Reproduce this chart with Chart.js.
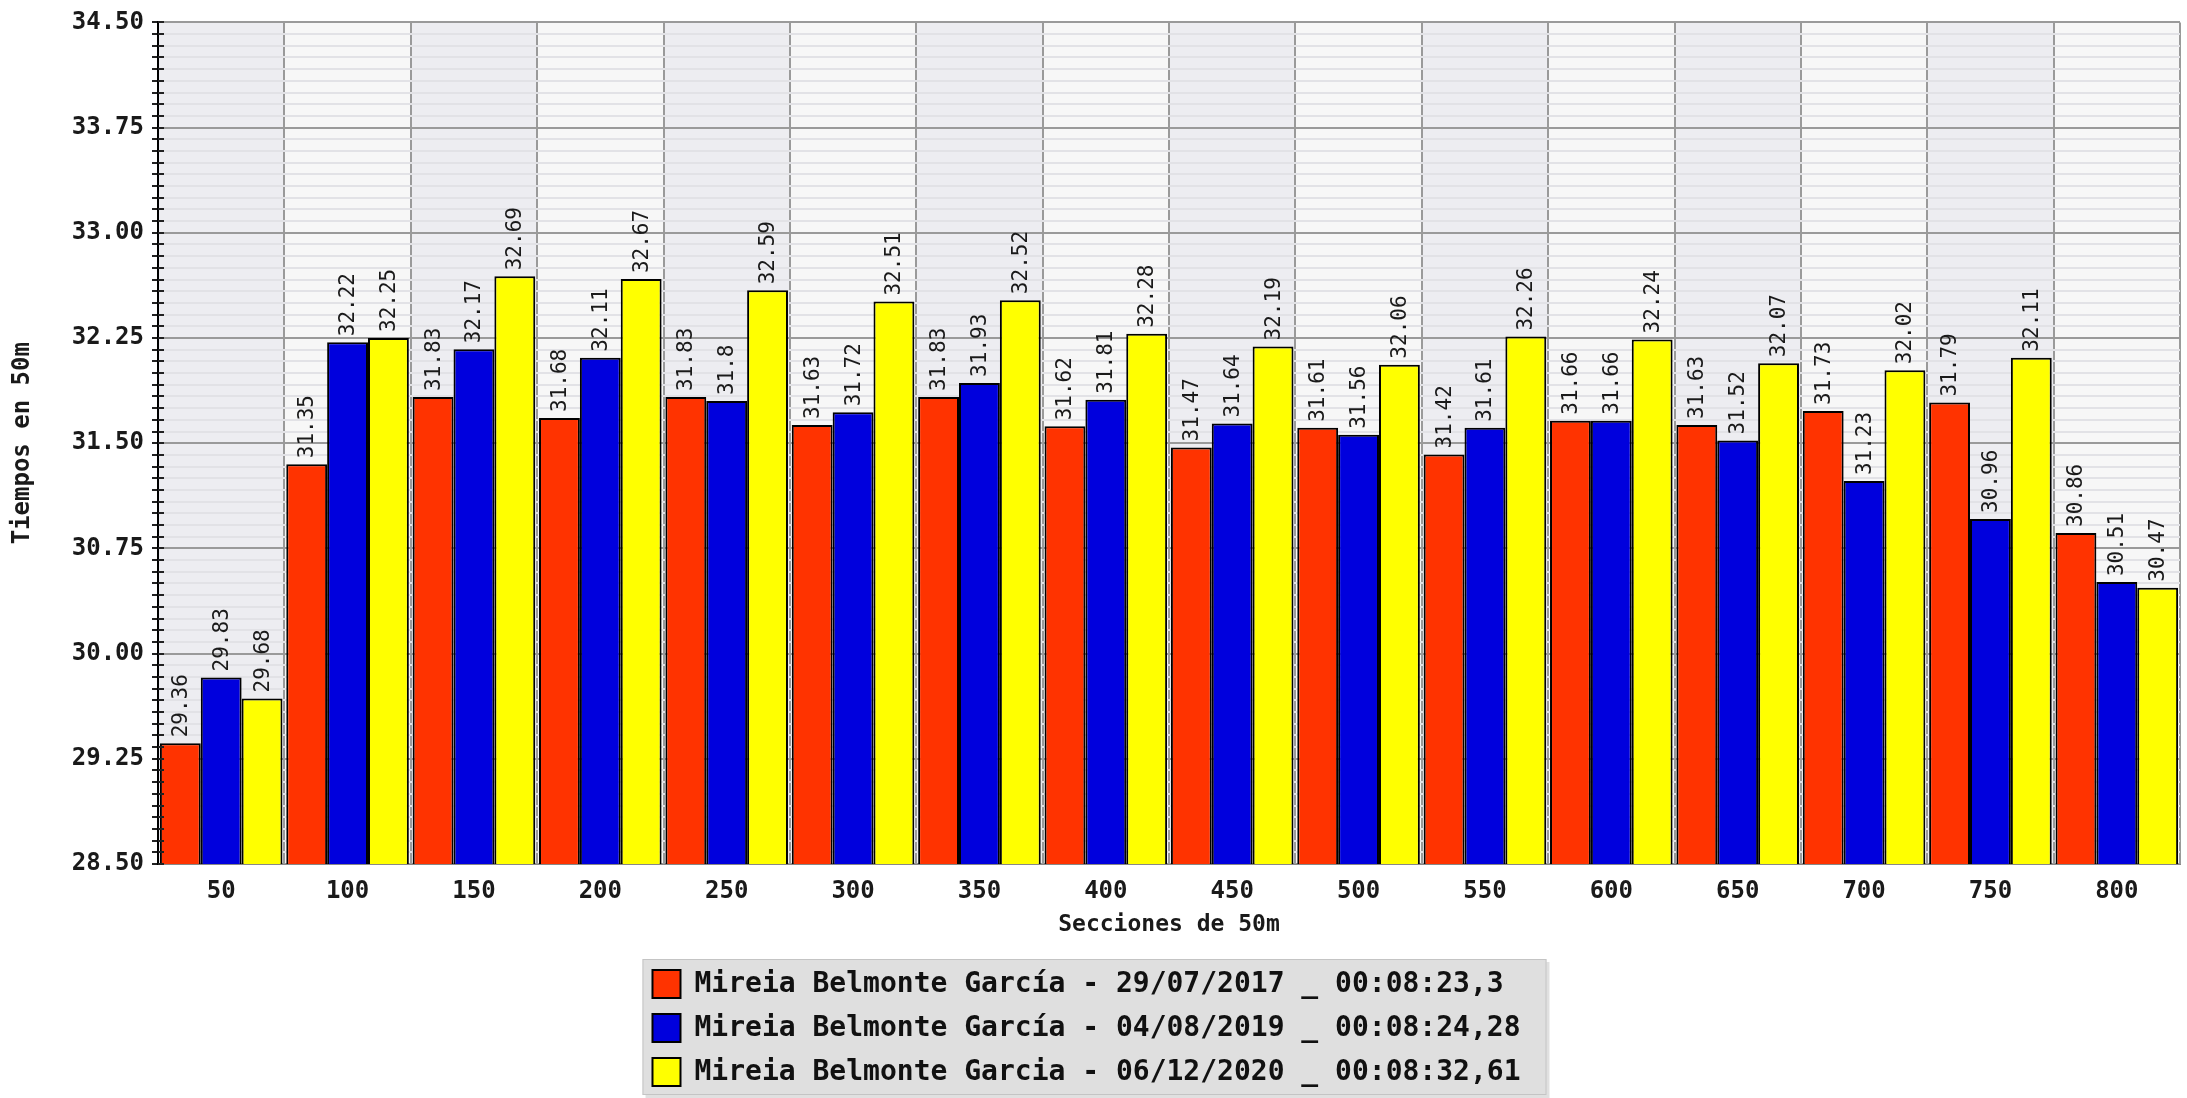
<!DOCTYPE html>
<html>
<head>
<meta charset="utf-8">
<script src="https://cdn.jsdelivr.net/npm/chart.js@4.4.0/dist/chart.umd.min.js"></script>
<style>
  html, body { margin: 0; padding: 0; background: #fff; }
  #wrap { width: 2187px; height: 1098px; }
</style>
</head>
<body>
<div id="wrap"><canvas id="tiempos" width="2187" height="1098"></canvas></div>
<script>
/* Tiempos por sección de 50m, 800 libre */

const secciones = ['50', '100', '150', '200', '250', '300', '350', '400',
                   '450', '500', '550', '600', '650', '700', '750', '800'];

const nadadora2017 = [29.36, 31.35, 31.83, 31.68, 31.83, 31.63, 31.83, 31.62,
                      31.47, 31.61, 31.42, 31.66, 31.63, 31.73, 31.79, 30.86];
const nadadora2019 = [29.83, 32.22, 32.17, 32.11, 31.8, 31.72, 31.93, 31.81,
                      31.64, 31.56, 31.61, 31.66, 31.52, 31.23, 30.96, 30.51];
const nadadora2020 = [29.68, 32.25, 32.69, 32.67, 32.59, 32.51, 32.52, 32.28,
                      32.19, 32.06, 32.26, 32.24, 32.07, 32.02, 32.11, 30.47];

const etiquetas = [
    'Mireia Belmonte García - 29/07/2017 _ 00:08:23,3',
    'Mireia Belmonte García - 04/08/2019 _ 00:08:24,28',
    'Mireia Belmonte Garcia - 06/12/2020 _ 00:08:32,61'
];

const ejeMin = 28.5;
const ejeMax = 34.5;
const pasoMayor = 0.75;
const pasoMenor = 0.75 / 9;

const MONO = '"DejaVu Sans Mono", "Liberation Mono", monospace';

/* ── Plugins ─────────────────────────────────────────── */

// fondo blanco + columnas alternas
const fondoColumnas = {
    id: 'fondoColumnas',
    beforeDraw(chart) {
        const { ctx, chartArea: a, scales: { x } } = chart;
        ctx.save();
        ctx.fillStyle = '#ffffff';
        ctx.fillRect(0, 0, chart.width, chart.height);
        const w = (a.right - a.left) / secciones.length;
        secciones.forEach((s, i) => {
            const cx = x.getPixelForValue(i);
            ctx.fillStyle = i % 2 === 0 ? '#ededf1' : '#f7f7f7';
            ctx.fillRect(cx - w / 2, a.top, w, a.bottom - a.top);
        });
        ctx.restore();
    }
};

// marcas del eje Y que cruzan hacia dentro
const marcasEje = {
    id: 'marcasEje',
    afterDatasetsDraw(chart) {
        const { ctx, scales: { y } } = chart;
        ctx.save();
        ctx.strokeStyle = '#222';
        ctx.lineWidth = 2;
        y.ticks.forEach((t, i) => {
            const py = Math.round(y.getPixelForTick(i));
            ctx.beginPath();
            ctx.moveTo(y.right, py);
            ctx.lineTo(y.right + 6, py);
            ctx.stroke();
        });
        ctx.restore();
    }
};

// valores en vertical encima de cada barra
const valoresBarras = {
    id: 'valoresBarras',
    afterDatasetsDraw(chart) {
        const ctx = chart.ctx;
        ctx.save();
        ctx.font = '21px ' + MONO;
        ctx.fillStyle = '#1a1a1a';
        ctx.textAlign = 'left';
        ctx.textBaseline = 'middle';
        chart.data.datasets.forEach((ds, di) => {
            chart.getDatasetMeta(di).data.forEach((bar, i) => {
                ctx.save();
                ctx.translate(bar.x + 1, bar.y - 6);
                ctx.rotate(-Math.PI / 2);
                ctx.fillText(String(ds.data[i]), 0, 0);
                ctx.restore();
            });
        });
        ctx.restore();
    }
};

// leyenda en caja gris debajo del eje
const leyendaCaja = {
    id: 'leyendaCaja',
    afterDraw(chart) {
        const ctx = chart.ctx;
        const ds = chart.data.datasets;
        ctx.save();
        ctx.font = 'bold 28px ' + MONO;
        const anchoTexto = Math.max(...ds.map(d => ctx.measureText(d.label).width));
        const fila = 44;
        const boxW = anchoTexto + 78;
        const boxH = fila * ds.length + 4;
        const boxX = chart.width / 2 - boxW / 2 + 1;
        const boxY = chart.scales.x.bottom + 15;

        ctx.fillStyle = 'rgba(0,0,0,0.12)';
        ctx.fillRect(boxX + 3, boxY + 3, boxW, boxH);
        ctx.fillStyle = '#dfdfdf';
        ctx.fillRect(boxX, boxY, boxW, boxH);
        ctx.strokeStyle = '#c4c4c4';
        ctx.lineWidth = 1;
        ctx.strokeRect(boxX + 0.5, boxY + 0.5, boxW - 1, boxH - 1);

        ds.forEach((d, i) => {
            const cy = boxY + 25 + i * fila;
            ctx.fillStyle = d.backgroundColor;
            ctx.fillRect(boxX + 10, cy - 14, 28, 28);
            ctx.strokeStyle = '#000';
            ctx.lineWidth = 2;
            ctx.strokeRect(boxX + 10, cy - 14, 28, 28);
            ctx.fillStyle = '#111';
            ctx.textAlign = 'left';
            ctx.textBaseline = 'middle';
            ctx.fillText(d.label, boxX + 52, cy + 1);
        });
        ctx.restore();
    }
};

/* ── Gráfico ─────────────────────────────────────────── */

const serie = (label, data, color) => ({
    label,
    data,
    backgroundColor: color,
    borderColor: '#000000',
    borderWidth: 2,
    borderSkipped: 'bottom',
    barPercentage: 1,
    categoryPercentage: 0.97
});

new Chart(document.getElementById('tiempos'), {
    type: 'bar',
    data: {
        labels: secciones,
        datasets: [
            serie(etiquetas[0], nadadora2017, '#ff3300'),
            serie(etiquetas[1], nadadora2019, '#0000dd'),
            serie(etiquetas[2], nadadora2020, '#ffff00')
        ]
    },
    plugins: [fondoColumnas, marcasEje, valoresBarras, leyendaCaja],
    options: {
        responsive: false,
        animation: false,
        layout: { padding: { top: 16, right: 7, bottom: 154, left: 0 } },
        plugins: {
            legend: { display: false },
            tooltip: { enabled: false }
        },
        scales: {
            x: {
                type: 'category',
                afterFit: s => { s.height = 80; },
                grid: {
                    offset: true,
                    color: '#9a9a9a',
                    lineWidth: 2,
                    drawTicks: false
                },
                border: { color: '#888', width: 1 },
                ticks: {
                    padding: 13,
                    color: '#1a1a1a',
                    font: { family: MONO, size: 24, weight: 'bold' }
                },
                title: {
                    display: true,
                    text: 'Secciones de 50m',
                    color: '#1a1a1a',
                    padding: { top: 4, bottom: 5 },
                    font: { family: MONO, size: 23, weight: 'bold' }
                }
            },
            y: {
                min: ejeMin,
                max: ejeMax,
                afterFit: s => { s.width = 158; },
                ticks: {
                    stepSize: pasoMenor,
                    autoSkip: false,
                    padding: 8,
                    color: '#1a1a1a',
                    font: { family: MONO, size: 24, weight: 'bold' },
                    callback: (v, i) => i % 9 === 0 ? (ejeMin + (i / 9) * pasoMayor).toFixed(2) : ''
                },
                grid: {
                    color: c => c.index % 9 === 0 ? '#9a9a9a' : '#e2e2e6',
                    lineWidth: 2,
                    tickColor: '#222',
                    tickLength: 6
                },
                border: { color: '#000', width: 2 },
                title: {
                    display: true,
                    text: 'Tiempos en 50m',
                    color: '#1a1a1a',
                    padding: { top: 8, bottom: 4 },
                    font: { family: MONO, size: 24, weight: 'bold' }
                }
            }
        }
    }
});
</script>
</body>
</html>
